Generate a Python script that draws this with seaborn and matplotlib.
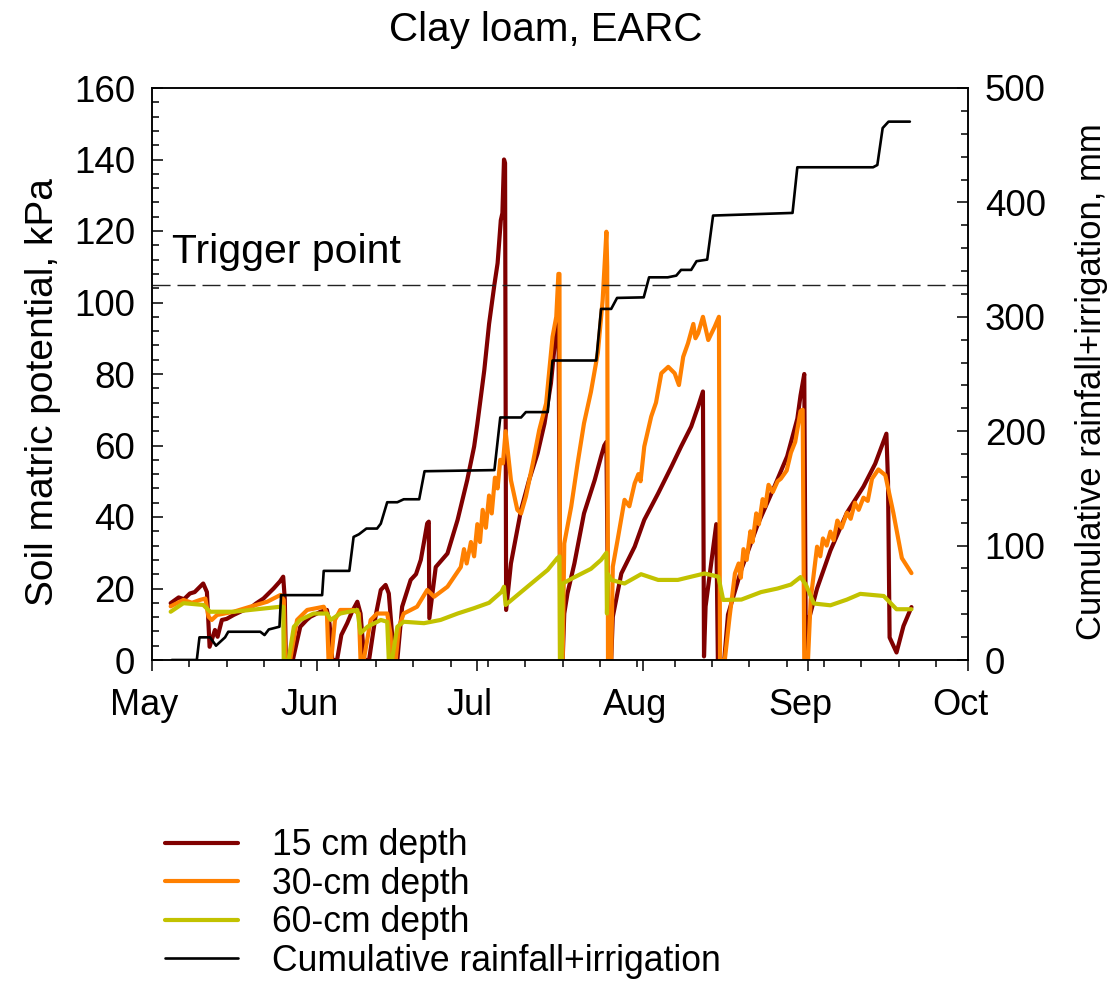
import pandas as pd
import numpy as np
import matplotlib
matplotlib.use("Agg")
import matplotlib.pyplot as plt
import matplotlib.dates as mdates
from matplotlib.ticker import MultipleLocator, FixedLocator
from matplotlib.transforms import ScaledTranslation
import seaborn as sns

# days after May 1 and soil matric potential (kPa)
d15 = [3.5, 5.0, 6.0, 7.1, 8.0, 9.0, 9.6, 10.0, 10.3, 10.8, 11.8, 12.3, 13.1, 14.0, 15.3, 17.0,
       18.4, 19.5, 20.9, 22.0, 22.8, 24.0, 24.6, 24.9, 25.1, 26.4, 27.8, 29.0, 29.7, 31.6, 32.8,
       33.3, 33.8, 34.7, 35.5, 36.6, 37.5, 38.5, 39.1, 39.8, 40.7, 41.9, 42.9, 43.8, 44.4, 45.4,
       46.0, 46.9, 48.5, 49.5, 50.4, 51.0, 51.6, 51.9, 52.0, 53.2, 55.4, 57.3, 59.1, 60.4, 61.0,
       62.3, 63.2, 64.2, 64.8, 65.4, 65.7, 66.0, 66.2, 66.4, 67.3, 68.5, 69.2, 70.7, 72.3, 73.6,
       74.8, 75.5, 75.8, 76.2, 76.6, 77.0, 77.3, 77.9, 79.2, 81.0, 83.0, 84.2, 84.8, 85.2, 85.6,
       86.1, 86.4, 88.0, 90.5, 92.3, 94.9, 97.4, 99.2, 101.1, 102.4, 103.3, 103.5, 103.8, 105.8,
       106.1, 107.3, 108.0, 110.5, 113.6, 116.7, 119.1, 121.0, 121.6, 122.3, 122.6, 123.2, 124.7,
       127.2, 130.3, 133.4, 135.6, 137.7, 138.0, 138.3, 139.6, 140.9, 142.4]
k15 = [15.9, 17.5, 17.0, 18.6, 19.0, 20.5, 21.4, 20.0, 19.0, 3.7, 8.4, 6.5, 11.2, 11.5, 12.6, 13.8,
       14.5, 15.8, 17.2, 18.8, 20.0, 22.0, 23.3, 17.0, 0, 0, 9.3, 11.2, 12.1, 13.5, 14.0,
       10.0, 0, 0, 7.0, 10.3, 13.5, 16.3, 13.0, 0, 0, 12.1, 19.6, 21.0, 18.6, 0,
       0, 14.9, 22.4, 24.0, 28.0, 33.0, 38.2, 38.7, 11.7, 26.0, 29.8, 39.2, 50.3, 59.7, 66.0,
       81.0, 94.0, 105.0, 111.0, 123.0, 125.0, 140.0, 139.0, 14.0, 27.0, 36.4, 42.0, 50.3, 57.8, 66.2,
       77.4, 88.0, 95.0, 97.0, 0, 0, 13.0, 18.6, 27.0, 41.0, 50.3, 56.9, 60.0, 61.0, 0,
       0, 12.1, 24.2, 31.7, 39.2, 46.6, 54.1, 59.7, 65.3, 70.9, 75.1, 1.0, 15.0, 38.0,
       0, 0, 12.7, 25.3, 38.0, 48.5, 57.0, 67.5, 74.0, 80.0, 0, 11.6, 20.0,
       30.6, 41.2, 48.5, 54.9, 63.3, 50.0, 6.3, 2.1, 9.5, 14.8]

d30 = [3.5, 5.9, 7.5, 9.0, 10.0, 10.6, 11.2, 12.2, 15.3, 18.4, 21.6, 24.1, 24.7, 25.0, 25.9,
       27.2, 29.1, 32.2, 32.8, 33.1, 33.6, 34.3, 35.3, 37.8, 38.8, 39.1, 39.7, 41.0, 42.2, 44.1,
       44.7, 45.0, 45.7, 46.3, 47.2, 49.7, 51.6, 52.9, 55.4, 57.9, 58.5, 59.0, 59.8, 60.4, 61.0,
       61.5, 62.0, 62.6, 63.2, 63.7, 64.3, 64.8, 65.3, 65.8, 66.3, 67.3, 68.5, 69.2, 70.1, 71.4,
       72.6, 73.9, 75.1, 75.8, 76.2, 76.4, 76.5, 77.0, 77.3, 78.6, 79.8, 81.0, 82.3, 83.6, 84.5,
       85.2, 85.35, 85.5, 86.1, 86.4, 87.3, 88.6, 89.5, 90.5, 91.2, 91.6, 92.3, 93.6, 94.5, 95.5,
       96.8, 98.0, 98.8, 99.6, 100.5, 101.5, 101.9, 102.4, 103.3, 104.3, 105.5, 106.3, 106.5,
       107.4, 108.3, 109.3, 110.0, 110.4, 110.9, 111.5, 112.2, 112.6, 113.3, 113.8, 114.5, 115.0,
       115.6, 116.4, 117.3, 117.9, 119.0, 119.8, 120.6, 121.6, 122.0, 122.3, 123.0, 123.5, 124.7,
       125.3, 125.8, 126.5, 127.2, 127.8, 128.5, 129.3, 130.3, 131.0, 131.8, 132.5, 133.4, 134.2,
       135.0, 136.2, 137.5, 139.0, 140.6, 141.5, 142.4]
k30 = [15.0, 16.8, 16.0, 16.8, 17.2, 12.1, 11.2, 12.6, 13.5, 14.9, 16.3, 18.2, 16.8, 0, 0,
       11.2, 14.0, 14.9, 13.0, 0, 0, 11.2, 14.0, 14.0, 13.0, 0, 0, 11.2, 13.0, 13.0,
       7.5, 0, 0, 9.3, 13.0, 14.9, 19.6, 17.7, 20.5, 26.0, 31.0, 27.0, 33.0, 29.0, 38.0,
       33.0, 42.0, 37.0, 46.0, 41.0, 51.0, 48.0, 56.0, 55.0, 64.0, 50.3, 42.0, 41.0, 45.7, 55.0,
       64.3, 71.8, 90.4, 96.0, 108.0, 108.0, 0, 0, 32.6, 42.9, 55.0, 66.2, 75.0, 86.0, 100.7,
       119.8, 110.0, 0, 0, 26.1, 33.6, 44.8, 43.0, 49.4, 52.0, 50.0, 59.7, 68.1, 72.0, 80.2,
       82.0, 80.2, 76.9, 84.8, 88.6, 94.0, 90.0, 91.4, 96.0, 89.5, 93.2, 96.0, 0,
       0, 12.1, 24.2, 27.0, 23.0, 31.0, 28.0, 36.0, 33.0, 41.0, 38.0, 45.0, 43.0,
       49.0, 47.0, 50.0, 50.7, 53.0, 58.0, 61.0, 69.6, 70.0, 0, 0, 16.9, 31.7,
       29.0, 34.0, 32.0, 35.9, 33.5, 39.0, 37.0, 41.2, 39.5, 44.0, 42.0, 45.4, 44.5,
       50.7, 53.3, 51.7, 41.2, 28.5, 26.4, 24.3]

d60 = [3.5, 5.9, 9.6, 10.9, 15.3, 18.4, 24.1, 24.6, 24.7, 25.6, 26.6, 27.8, 30.3, 32.8, 33.5,
       35.3, 38.5, 39.1, 40.4, 42.9, 44.1, 44.4, 45.0, 46.0, 47.2, 51.0, 54.1, 57.3, 60.4, 63.2,
       65.5, 66.0, 66.3, 70.4, 74.2, 76.0, 76.4, 76.5, 76.8, 77.0, 79.0, 82.3, 84.2, 85.2, 85.3,
       85.5, 86.1, 88.6, 91.7, 94.9, 98.6, 101.1, 103.6, 106.2, 107.1, 110.5, 114.2, 117.3, 119.8,
       121.6, 122.6, 124.1, 127.2, 130.3, 132.8, 137.2, 139.6, 142.4]
k60 = [13.5, 15.9, 15.4, 13.5, 13.5, 14.0, 14.9, 14.9, 0, 0, 9.3, 11.2, 13.0, 13.0, 11.2,
       13.0, 14.0, 7.5, 9.3, 11.2, 10.7, 0, 0, 9.3, 10.7, 10.3, 11.2, 13.0, 14.5, 16.0,
       19.0, 20.5, 15.4, 20.5, 25.2, 28.5, 29.0, 0, 0, 21.4, 23.0, 25.5, 28.0, 30.0, 13.0,
       24.0, 22.4, 21.4, 24.0, 22.4, 22.4, 23.3, 24.2, 23.3, 16.8, 16.9, 19.0, 20.0, 21.1,
       23.2, 21.1, 15.8, 15.3, 16.9, 18.5, 17.9, 14.2, 14.2]

# cumulative rainfall + irrigation (mm)
dc = [3.7, 8.4, 8.9, 10.9, 12.0, 13.7, 14.3, 20.3, 21.1, 21.9, 23.9, 24.2, 31.9, 32.2, 37.0,
      37.8, 38.8, 40.2, 42.2, 42.9, 44.1, 46.0, 47.2, 50.1, 51.1, 64.2, 65.3, 69.2, 70.1, 74.2,
      75.1, 83.3, 84.2, 86.1, 87.2, 92.2, 93.2, 96.7, 98.3, 99.2, 101.1, 102.1, 104.1, 105.2,
      120.1, 121.0, 135.2, 136.0, 137.0, 138.1, 142.1]
cum = [0, 0, 19.8, 19.8, 12.5, 19.8, 24.7, 24.7, 21.8, 26.7, 29.1, 56.7, 56.7, 77.9, 77.9,
       107.6, 109.9, 114.9, 114.9, 119.2, 137.9, 137.9, 140.5, 140.5, 165.0, 166.0, 212.0, 212.0,
       216.7, 216.7, 261.8, 261.8, 306.9, 306.9, 316.5, 317.0, 334.5, 334.5, 336.0, 341.0, 341.0,
       348.6, 350.0, 388.5, 390.8, 430.7, 430.7, 432.7, 465.0, 470.6, 470.6]

trigger = 105
start = pd.Timestamp("2019-05-01")


def to_dates(days):
    return start + pd.to_timedelta(np.array(days), unit="D")


sns.set_style("ticks")
plt.rcParams["font.family"] = ["Liberation Sans", "DejaVu Sans"]
plt.rcParams["text.color"] = "black"
plt.rcParams["axes.labelcolor"] = "black"
plt.rcParams["xtick.color"] = "black"
plt.rcParams["ytick.color"] = "black"

fig = plt.figure(figsize=(11.12, 9.81), dpi=100)
ax = fig.add_axes([152 / 1112, 1 - 660 / 981, (968 - 152) / 1112, (660 - 88) / 981])
ax2 = ax.twinx()

sns.lineplot(x=to_dates(d15), y=k15, ax=ax, color="#800000", lw=3.0, sort=False,
             estimator=None, label="15 cm depth", legend=False)
sns.lineplot(x=to_dates(d30), y=k30, ax=ax, color="#FF8000", lw=3.0, sort=False,
             estimator=None, label="30-cm depth", legend=False)
sns.lineplot(x=to_dates(d60), y=k60, ax=ax, color="#C2C200", lw=3.0, sort=False,
             estimator=None, label="60-cm depth", legend=False)
sns.lineplot(x=to_dates(dc), y=cum, ax=ax2, color="black", lw=1.9, sort=False,
             estimator=None, label="Cumulative rainfall+irrigation", legend=False)

ax.axhline(trigger, color="#222222", lw=1.0, dashes=(13, 5))
ax.text(start + pd.Timedelta(days=3.7), trigger + 6, "Trigger point", fontsize=29.5,
        va="baseline", ha="left")

ax.set_xlim(start, pd.Timestamp("2019-10-01"))
ax.set_ylim(0, 160)
ax2.set_ylim(0, 500)
ax.yaxis.set_major_locator(MultipleLocator(20))
ax.yaxis.set_minor_locator(MultipleLocator(4))
ax2.yaxis.set_major_locator(MultipleLocator(100))
ax2.yaxis.set_minor_locator(MultipleLocator(20))
ax.xaxis.set_major_locator(mdates.MonthLocator())
ax.xaxis.set_major_formatter(mdates.DateFormatter("%b"))
weeks = pd.date_range("2019-05-01", "2019-10-01", freq="7D")
ax.xaxis.set_minor_locator(FixedLocator(mdates.date2num(weeks)))

for a in (ax, ax2):
    for s in a.spines.values():
        s.set_linewidth(1.1)
        s.set_color("black")
ax.tick_params(axis="x", which="major", direction="out", length=8, width=1.1, pad=12,
               labelsize=26)
ax.tick_params(axis="x", which="minor", direction="out", length=5, width=1.1)
ax.tick_params(axis="y", which="major", direction="in", length=8, width=1.1, pad=12,
               labelsize=26.5)
ax.tick_params(axis="y", which="minor", direction="in", length=5, width=1.1)
ax2.tick_params(axis="y", which="major", direction="in", length=8, width=1.1, pad=12,
                labelsize=26.5)
ax2.tick_params(axis="y", which="minor", direction="in", length=5, width=1.1)

ax.set_xlabel("")
ax.set_ylabel("Soil matric potential, kPa", fontsize=28)
ax2.set_ylabel("Cumulative rainfall+irrigation, mm", fontsize=25)
ax.yaxis.set_label_coords(-0.112, 0.469)
ax2.yaxis.set_label_coords(1.131, 0.486)

shift = ScaledTranslation(-8 / 100, 0, fig.dpi_scale_trans)
for t in ax.xaxis.get_major_ticks():
    t.label1.set_transform(t.label1.get_transform() + shift)

fig.text(546 / 1112, 1 - 30 / 981, "Clay loam, EARC", fontsize=29, ha="center", va="center")

h1, l1 = ax.get_legend_handles_labels()
h2, l2 = ax2.get_legend_handles_labels()
fig.legend(h1 + h2, l1 + l2, loc="upper left", bbox_to_anchor=(165 / 1112, 1 - 828 / 981),
           frameon=False, fontsize=25.6, handlelength=2.05, handletextpad=0.95,
           labelspacing=0.1, borderpad=0, borderaxespad=0)

fig.savefig("out.png", dpi=100)
